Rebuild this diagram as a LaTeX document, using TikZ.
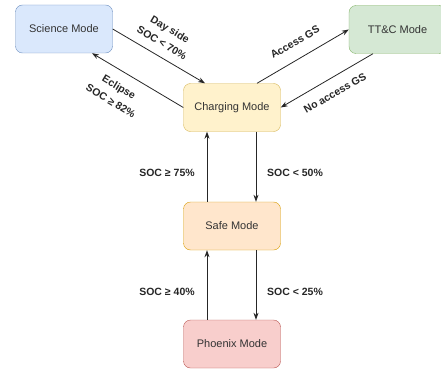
\documentclass[tikz,border=0pt]{standalone}
\usepackage{fontspec}
\setmainfont{Liberation Sans}
\usetikzlibrary{arrows.meta}

\definecolor{scienceFill}{HTML}{DAE8FC}
\definecolor{scienceLine}{HTML}{6C8EBF}
\definecolor{ttcFill}{HTML}{D5E8D4}
\definecolor{ttcLine}{HTML}{82B366}
\definecolor{chargeFill}{HTML}{FFF2CC}
\definecolor{chargeLine}{HTML}{D6B656}
\definecolor{safeFill}{HTML}{FFE6CC}
\definecolor{safeLine}{HTML}{D79B00}
\definecolor{phoenixFill}{HTML}{F8CECC}
\definecolor{phoenixLine}{HTML}{B85450}

\begin{document}
\begin{tikzpicture}[x=1pt, y=-1pt,
    mode/.style={draw, rounded corners=7pt, minimum width=97pt, minimum height=48pt,
        font=\fontsize{11}{13}\selectfont, text=black!80},
    link/.style={-{Stealth[length=7pt, width=5pt]}, draw=black!85, line width=0.8pt},
    cond/.style={font=\bfseries\fontsize{10.5}{16}\selectfont, align=center, text=black!85}]
    \useasboundingbox (0,0) rectangle (441,369);
    \clip (0,0) rectangle (441,369);

    % modes
    \node[mode, fill=scienceFill, draw=scienceLine] (science) at (64,29) {Science Mode};
    \node[mode, fill=ttcFill, draw=ttcLine] (ttc) at (397.5,29.5) {TT\&C Mode};
    \node[mode, fill=chargeFill, draw=chargeLine] (charging) at (232,107.5) {Charging Mode};
    \node[mode, fill=safeFill, draw=safeLine] (safe) at (232,226) {Safe Mode};
    \node[mode, fill=phoenixFill, draw=phoenixLine] (phoenix) at (232,344) {Phoenix Mode};

    % transitions
    \draw[link] (science.east) -- ([xshift=-27pt]charging.north);
    \draw[link] (charging.west) -- ([xshift=28pt]science.south);
    \draw[link] ([xshift=25pt]charging.north) -- (ttc.west);
    \draw[link] ([xshift=-24.5pt]ttc.south) -- (charging.east);
    \draw[link] ([xshift=24pt]charging.south) -- ([xshift=24pt]safe.north);
    \draw[link] ([xshift=-25pt]safe.north) -- ([xshift=-25pt]charging.south);
    \draw[link] ([xshift=24pt]safe.south) -- ([xshift=24pt]phoenix.north);
    \draw[link] ([xshift=-25pt]phoenix.north) -- ([xshift=-25pt]safe.south);

    % conditions
    \node[cond, rotate=-31] (daySide) at (166,36) {Day side\\SOC < 70\%};
    \node[cond, rotate=-31] (eclipse) at (115,94) {Eclipse\\SOC ≥ 82\%};
    \node[cond, rotate=30] (accessGS) at (295,42) {Access GS};
    \node[cond, rotate=30] (noAccessGS) at (335,93) {No access GS};
    \node[cond] (socUp75) at (167,173) {SOC ≥ 75\%};
    \node[cond] (socDown50) at (295,173) {SOC < 50\%};
    \node[cond] (socUp40) at (167,292) {SOC ≥ 40\%};
    \node[cond] (socDown25) at (295,292) {SOC < 25\%};
\end{tikzpicture}
\end{document}
